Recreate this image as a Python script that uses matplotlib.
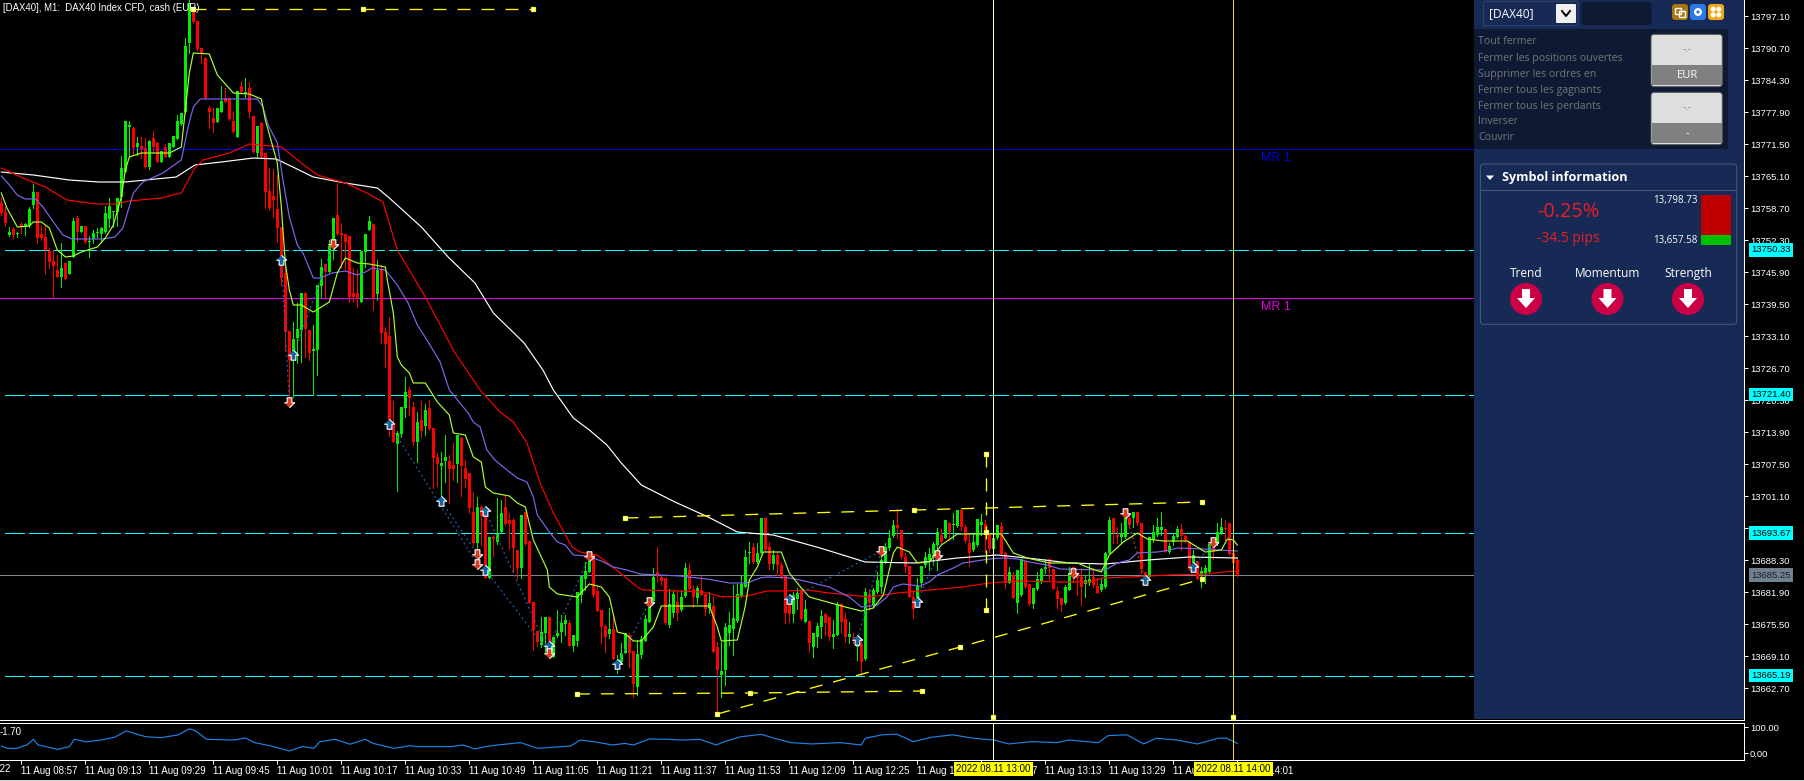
import numpy as np
import matplotlib
matplotlib.use("Agg")
import matplotlib.pyplot as plt
from matplotlib.patches import Rectangle, FancyBboxPatch, Circle, Polygon

BASE = 13600.0  # all chart prices below are stored relative to this

candle_open = [
    159.7, 157.9, 153.3, 154.5, 153.5, 155.5, 154.9, 155.1, 159.3, 161.9,
    153.5, 152.9, 150.1, 148.1, 146.3, 144.9, 147.7, 145.5, 148.9, 156.7,
    153.9, 155.1, 151.9, 152.5, 153.7, 153.5, 153.9, 156.5, 157.9, 157.9,
    160.9, 165.9, 174.9, 174.7, 170.9, 171.1, 170.7, 166.9, 172.7, 171.7,
    167.9, 170.9, 168.9, 170.9, 172.5, 175.5, 177.9, 191.7, 198.3, 196.1,
    190.7, 188.7, 178.7, 176.7, 175.9, 177.9, 180.7, 180.7, 176.1, 172.9,
    183.1, 181.7, 182.7, 177.1, 169.7, 175.7, 169.7, 162.1, 161.1, 158.5,
    154.9, 145.7, 134.1, 129.9, 132.7, 134.3, 141.7, 134.3, 130.1, 130.3,
    143.1, 147.5, 145.9, 150.9, 157.3, 153.7, 153.5, 153.1, 141.7, 141.7,
    139.9, 149.9, 154.3, 155.5, 141.5, 146.5, 133.9, 133.1, 115.3, 111.5,
    113.5, 118.7, 122.3, 118.9, 111.9, 116.3, 115.1, 118.7, 114.7, 108.9,
    107.1, 108.1, 108.1, 107.3, 107.5, 112.7, 106.7, 105.7, 97.9, 91.7,
    98.9, 97.3, 84.7, 92.9, 91.9, 93.9, 98.9, 96.3, 96.3, 90.3,
    86.7, 97.9, 92.1, 79.9, 74.1, 71.3, 73.7, 76.9, 68.9, 73.1,
    73.9, 75.5, 75.7, 71.1, 72.1, 81.3, 84.5, 85.9, 89.3, 82.1,
    78.3, 75.1, 73.5, 74.5, 67.7, 67.9, 69.7, 73.3, 70.1, 62.9,
    69.3, 72.1, 75.9, 80.1, 85.9, 84.9, 84.7, 75.3, 77.7, 79.9,
    78.3, 81.1, 86.3, 82.5, 80.7, 82.3, 81.5, 78.7, 79.1, 70.9,
    65.3, 66.3, 73.7, 74.5, 76.1, 81.1, 82.9, 89.7, 90.9, 87.9,
    89.7, 96.7, 90.9, 87.5, 89.3, 87.3, 85.1, 79.9, 77.5, 80.5,
    82.1, 75.9, 76.1, 70.9, 72.9, 74.9, 77.5, 76.9, 72.9, 73.3,
    79.5, 76.5, 72.9, 72.9, 70.9, 71.5, 68.5, 81.5, 79.1, 81.9,
    82.9, 87.9, 90.7, 93.1, 95.3, 94.3, 88.9, 87.1, 80.9, 79.9,
    83.7, 87.3, 88.3, 89.5, 91.3, 93.3, 92.7, 95.7, 95.3, 95.1,
    98.3, 94.9, 91.7, 90.3, 91.3, 95.3, 95.5, 93.3, 90.5, 92.7,
    95.1, 89.7, 83.7, 85.3, 79.7, 81.3, 88.1, 83.5, 79.5, 82.5,
    83.9, 86.5, 88.5, 86.5, 82.1, 80.7, 79.7, 82.3, 86.9, 85.7,
    84.9, 83.5, 83.7, 84.9, 83.1, 82.3, 82.9, 89.7, 96.7, 93.3,
    92.9, 92.9, 96.7, 96.7, 97.9, 95.7, 85.9, 84.9, 92.3, 93.3,
    94.3, 94.5, 89.9, 91.9, 92.9, 94.5, 93.1, 91.9, 87.7, 88.1,
    85.5, 85.7, 85.9, 91.3, 91.5, 93.7, 94.7, 95.7, 89.7, 88.3,
]
candle_close = [
    157.7, 155.7, 153.9, 153.3, 153.7, 154.9, 155.5, 158.5, 161.9, 152.7,
    152.7, 150.3, 147.9, 147.1, 144.9, 146.7, 144.5, 148.1, 156.1, 153.9,
    155.1, 151.9, 152.1, 153.7, 153.9, 154.7, 157.7, 159.1, 158.1, 160.7,
    166.7, 176.1, 175.3, 170.7, 171.7, 170.5, 166.9, 172.1, 170.9, 167.9,
    170.1, 168.9, 171.7, 173.1, 176.1, 177.7, 191.1, 199.7, 195.9, 190.5,
    189.5, 180.7, 177.9, 175.7, 178.7, 180.1, 179.9, 176.5, 173.9, 182.1,
    181.9, 181.9, 177.9, 169.9, 175.1, 168.9, 161.9, 158.7, 160.3, 154.7,
    144.7, 133.9, 128.3, 132.5, 134.5, 141.7, 134.5, 129.7, 130.5, 143.3,
    146.9, 145.9, 151.1, 156.7, 153.5, 153.3, 151.9, 140.9, 140.9, 140.7,
    150.1, 153.5, 156.1, 140.7, 146.3, 133.7, 131.5, 115.7, 111.9, 113.7,
    118.9, 121.9, 120.7, 111.9, 115.9, 114.1, 118.3, 114.5, 108.7, 107.5,
    107.7, 108.9, 106.5, 106.5, 113.3, 107.1, 104.5, 98.7, 91.7, 98.9,
    97.1, 84.7, 92.9, 92.5, 93.5, 97.7, 95.5, 95.5, 90.7, 86.7,
    97.3, 91.5, 79.7, 74.3, 71.9, 73.9, 76.9, 71.9, 72.9, 73.7,
    75.7, 76.3, 71.1, 73.3, 81.9, 85.1, 86.1, 88.3, 81.3, 78.1,
    74.9, 72.9, 74.5, 68.5, 68.3, 69.7, 73.7, 69.7, 63.5, 69.5,
    72.5, 76.5, 79.3, 84.9, 85.1, 84.1, 75.7, 79.5, 81.5, 77.7,
    80.9, 86.7, 82.5, 80.9, 82.7, 81.3, 78.5, 79.7, 69.9, 66.3,
    66.1, 74.9, 75.3, 76.7, 81.5, 83.5, 88.9, 89.9, 87.9, 89.7,
    96.7, 90.3, 87.5, 89.3, 87.3, 84.9, 77.7, 77.5, 81.3, 81.7,
    76.5, 78.5, 71.7, 73.7, 75.1, 77.1, 75.7, 72.9, 73.5, 79.5,
    75.9, 72.9, 73.5, 72.7, 71.7, 67.9, 81.9, 79.7, 82.3, 84.3,
    88.3, 90.9, 92.7, 95.3, 94.7, 88.9, 86.9, 80.9, 78.5, 83.1,
    87.1, 88.9, 89.5, 91.5, 93.9, 91.9, 96.3, 93.9, 95.5, 98.3,
    94.9, 92.1, 89.7, 91.9, 96.5, 95.9, 93.7, 90.5, 92.7, 95.3,
    89.5, 83.7, 85.9, 80.7, 86.3, 88.5, 82.9, 79.5, 82.7, 84.5,
    86.5, 86.9, 86.7, 82.5, 80.5, 79.3, 82.9, 85.7, 84.7, 84.7,
    82.9, 84.3, 84.5, 83.3, 81.7, 83.5, 89.7, 96.3, 93.7, 92.9,
    93.7, 96.9, 95.3, 97.9, 95.7, 86.5, 84.9, 92.9, 93.9, 94.9,
    94.9, 89.9, 91.1, 93.1, 94.5, 93.1, 92.3, 86.5, 89.3, 84.5,
    86.1, 86.7, 91.5, 89.9, 93.9, 94.9, 94.5, 89.5, 87.7, 85.3,
]
candle_high = [
    160.9, 158.9, 154.9, 154.9, 153.9, 155.9, 155.7, 158.9, 163.5, 161.9,
    155.1, 155.1, 150.7, 150.3, 149.3, 151.7, 147.7, 148.1, 156.7, 157.1,
    155.1, 155.1, 153.1, 154.3, 154.7, 154.9, 159.1, 160.7, 158.1, 160.7,
    169.1, 176.1, 176.1, 174.9, 172.9, 172.9, 172.7, 172.3, 174.1, 171.9,
    170.1, 171.5, 171.7, 173.1, 177.3, 177.7, 192.7, 200.3, 198.9, 196.1,
    190.7, 188.9, 179.1, 178.7, 178.7, 183.1, 182.7, 180.7, 178.1, 182.1,
    184.1, 184.7, 183.9, 177.1, 175.1, 175.9, 169.7, 166.7, 166.5, 165.3,
    154.9, 148.3, 134.1, 135.9, 139.7, 141.7, 141.9, 134.3, 135.3, 143.3,
    148.5, 147.5, 152.3, 156.7, 163.7, 155.7, 153.5, 153.1, 146.7, 146.3,
    150.1, 153.5, 157.1, 155.5, 148.3, 147.3, 134.9, 136.9, 120.1, 114.1,
    118.9, 124.9, 122.9, 119.9, 117.9, 120.1, 119.5, 120.3, 114.7, 109.7,
    109.9, 113.3, 109.3, 111.7, 113.3, 112.9, 108.3, 105.7, 101.9, 100.9,
    99.3, 97.3, 92.9, 93.3, 100.7, 100.3, 101.1, 97.7, 96.7, 90.3,
    97.3, 97.9, 92.1, 79.9, 74.1, 76.9, 76.9, 76.9, 72.9, 78.3,
    77.3, 77.3, 76.3, 73.3, 81.9, 85.1, 87.9, 89.7, 89.3, 82.9,
    78.3, 75.3, 78.7, 77.1, 69.3, 71.7, 73.7, 73.7, 70.1, 72.3,
    73.1, 77.3, 79.7, 86.7, 90.9, 85.3, 84.7, 82.5, 82.3, 82.3,
    82.3, 87.7, 87.7, 83.1, 83.1, 85.1, 81.5, 81.9, 81.1, 71.9,
    71.9, 75.7, 77.9, 83.3, 83.5, 85.3, 90.3, 91.9, 91.7, 91.7,
    96.7, 96.7, 91.9, 90.3, 89.9, 87.9, 85.1, 80.5, 81.9, 82.7,
    82.3, 80.3, 76.3, 73.7, 75.7, 78.3, 77.7, 76.9, 76.3, 79.9,
    79.7, 77.7, 75.9, 73.7, 72.9, 72.3, 82.7, 82.5, 82.7, 85.9,
    89.7, 91.7, 94.3, 96.3, 98.1, 94.3, 89.7, 87.1, 82.3, 84.7,
    87.1, 89.9, 90.7, 91.9, 94.7, 94.5, 96.3, 95.9, 97.7, 98.3,
    98.3, 95.3, 93.7, 93.7, 96.5, 97.5, 96.3, 93.7, 93.9, 95.3,
    95.9, 89.9, 86.9, 85.9, 86.3, 88.5, 88.1, 83.5, 82.7, 85.9,
    86.7, 88.5, 88.5, 86.5, 82.9, 80.7, 83.3, 86.9, 86.9, 85.9,
    86.7, 85.3, 87.7, 86.7, 84.7, 84.7, 89.9, 96.9, 96.7, 94.9,
    95.7, 96.9, 97.3, 97.9, 97.9, 95.7, 85.9, 92.9, 95.3, 96.7,
    97.9, 94.5, 91.7, 93.7, 95.1, 95.5, 93.7, 92.1, 90.3, 88.1,
    86.9, 87.3, 91.7, 92.3, 95.7, 96.7, 96.3, 95.7, 89.7, 88.7,
]
candle_low = [
    157.3, 155.1, 153.1, 152.7, 152.9, 153.7, 153.3, 154.9, 158.7, 151.7,
    152.3, 145.5, 146.7, 140.9, 144.9, 142.9, 144.5, 145.5, 148.9, 151.9,
    153.9, 151.7, 148.9, 151.7, 152.9, 151.9, 153.7, 154.9, 154.9, 155.1,
    158.9, 165.9, 168.9, 169.3, 169.3, 168.7, 166.7, 166.5, 169.7, 167.9,
    167.9, 168.9, 168.9, 170.9, 172.5, 175.3, 177.7, 189.7, 195.7, 190.3,
    187.7, 180.7, 174.7, 173.9, 175.9, 177.9, 179.9, 176.3, 173.7, 172.9,
    181.7, 180.9, 176.9, 169.7, 168.9, 168.9, 158.7, 158.3, 156.9, 151.9,
    143.3, 130.3, 120.3, 120.9, 127.7, 127.9, 128.9, 128.3, 121.3, 125.3,
    140.9, 140.9, 145.9, 148.5, 153.3, 146.7, 146.3, 139.9, 139.9, 138.9,
    139.9, 146.9, 154.3, 138.3, 140.3, 131.7, 126.9, 113.1, 111.9, 102.1,
    112.9, 116.9, 117.3, 111.3, 107.9, 112.9, 113.3, 114.3, 102.7, 103.1,
    100.9, 103.9, 99.7, 104.3, 103.9, 101.1, 102.9, 97.7, 91.3, 89.7,
    91.3, 84.7, 84.7, 89.1, 91.5, 93.7, 95.3, 90.5, 85.9, 84.7,
    84.7, 91.3, 79.7, 70.3, 71.1, 70.9, 69.7, 68.9, 68.9, 72.9,
    71.9, 73.3, 71.1, 70.1, 71.1, 79.9, 82.3, 85.9, 80.9, 78.1,
    71.7, 69.9, 72.7, 68.5, 65.7, 67.7, 69.7, 66.9, 60.9, 61.3,
    68.7, 72.1, 75.9, 79.9, 83.9, 83.3, 75.5, 74.9, 76.9, 76.3,
    78.1, 80.9, 82.3, 78.9, 79.7, 81.3, 77.3, 77.7, 69.9, 57.7,
    60.9, 63.3, 71.3, 69.3, 75.9, 80.9, 82.9, 87.7, 87.7, 87.7,
    89.7, 90.1, 86.5, 86.5, 85.3, 84.7, 75.7, 75.9, 75.9, 78.5,
    76.3, 75.9, 69.9, 68.9, 70.9, 72.7, 73.3, 72.3, 70.7, 73.3,
    73.7, 71.9, 71.7, 71.7, 68.3, 65.3, 68.3, 78.3, 78.9, 81.7,
    81.7, 87.7, 90.3, 92.9, 92.7, 88.7, 85.9, 80.9, 76.7, 78.9,
    82.9, 86.9, 86.3, 87.3, 86.3, 91.7, 92.7, 92.3, 92.5, 94.9,
    94.3, 91.9, 87.1, 90.1, 91.1, 93.3, 89.9, 89.9, 90.3, 92.5,
    89.3, 82.7, 83.7, 80.7, 77.7, 81.1, 82.7, 79.3, 78.7, 82.3,
    83.7, 85.7, 84.3, 82.5, 78.7, 78.1, 79.5, 82.3, 83.9, 81.3,
    79.3, 80.9, 83.3, 82.9, 81.7, 82.1, 82.7, 89.7, 91.7, 91.7,
    91.7, 92.7, 94.9, 94.9, 95.3, 85.7, 84.3, 84.9, 91.9, 93.1,
    93.3, 89.9, 89.7, 91.3, 92.7, 90.3, 91.9, 86.3, 87.3, 84.5,
    82.9, 83.7, 85.9, 88.5, 91.3, 93.5, 92.3, 89.3, 87.7, 85.1,
]

# moving averages as (bar, price) knots
fast_bar = [0, 1.4, 4, 7, 8, 10, 12, 14, 16, 18, 20, 24, 26, 28, 30, 31, 32, 35, 42, 45, 46, 47, 48, 52, 54, 58, 62, 65, 66, 69,
            70, 71, 72, 73, 75, 78, 80, 82, 84, 86, 89, 92, 96, 96.5, 98, 99, 100, 102, 103, 106, 109, 112, 113, 116, 118, 120,
            121, 123, 127, 129, 131, 133, 135, 136.5, 137, 139, 144, 147, 150, 152, 154, 156, 158, 160, 163, 165, 170, 175, 177,
            179, 180, 184, 186, 187, 189, 190.5, 195, 197, 200, 202, 211, 215, 218, 220.5, 223, 224, 227, 229, 232, 235, 239, 250,
            253, 256.5, 262, 269, 272, 275, 277, 280.5, 284, 286.5, 290.5, 296.5, 301, 305, 306.5, 308, 309]
fast_price = [161.7, 158.7, 154.9, 155.1, 155.9, 155.9, 154.7, 150.3, 148.9, 149.1, 149.9, 150.9, 152.7, 155.3, 160.9, 166.3, 168.9, 169.7, 169.7, 170.9, 178.3, 185.7, 189.7, 189.5, 185.3, 181.7, 181.5, 180.5, 176.3, 167.7,
              158.9, 147.7, 142.3, 139.3, 139.3, 137.9, 138.9, 139.9, 145.7, 148.7, 147.7, 147.5, 146.9, 144.3, 137.7, 128.9, 127.3, 125.7, 123.7, 123.7, 119.9, 117.3, 113.7, 113.3, 108.9, 107.9,
              102.9, 101.7, 101.1, 99.7, 98.9, 92.3, 88.9, 86.3, 82.9, 81.5, 80.9, 83.5, 82.9, 80.9, 73.9, 73.5, 72.1, 72.1, 74.9, 79.1, 79.1, 79.1, 79.1,
              74.9, 72.1, 72.3, 79.1, 84.3, 86.9, 89.9, 89.9, 85.7, 82.7, 80.9, 78.9, 78.1, 78.7, 81.3, 89.7, 90.9, 89.9, 87.7, 87.9, 91.3, 93.5, 93.5,
              89.7, 88.7, 87.7, 87.7, 86.7, 85.9, 89.3, 91.9, 93.7, 92.5, 92.1, 92.1, 89.9, 90.3, 92.5, 92.3, 91.3]
mid_bar = [0, 1.4, 4, 6, 8.5, 10.4, 13, 15.4, 17.7, 25.4, 28.4, 30.4, 33, 35.4, 40.4, 45, 46.7, 48, 49.7, 64, 65.4, 66.7, 69, 70.4, 72, 74, 75.4, 78, 79.7, 82.7, 86, 89, 91, 92.7, 96,
           99, 101.7, 104, 106.4, 109.7, 112, 116.7, 118, 119.7, 121.4, 123.4, 126.4, 129, 131.4, 133, 134, 137, 139, 141, 143, 146.4, 150, 153, 156.4, 159.7, 169.7, 176.4, 182, 186.4, 189.7,
           191.4, 197, 199.7, 207, 212, 215, 219, 221.4, 223, 225.4, 229.7, 232, 234, 238, 240.4, 247, 250.4, 254, 257, 261.4, 264.7, 274, 276, 279, 282, 284, 289, 292, 294, 300.4, 304, 309]
mid_price = [165.1, 163.9, 161.3, 160.5, 160.5, 158.9, 155.9, 153.3, 152.5, 152.5, 152.9, 154.7, 161.7, 163.9, 165.7, 168.3, 174.9, 178.9, 180.5, 180.5, 178.9, 175.3, 171.7, 164.3, 156.9, 151.3, 149.7, 144.7, 144.7, 145.7, 146.1, 145.3, 145.9, 146.7, 146.3,
             143.3, 139.7, 135.3, 132.3, 127.9, 122.3, 117.7, 115.9, 114.9, 110.3, 108.3, 106.3, 104.7, 103.9, 100.9, 97.3, 93.9, 91.9, 91.3, 89.3, 89.1, 88.1, 86.9, 86.3, 85.5, 85.1, 84.5, 83.7, 83.7, 84.7,
             84.9, 84.7, 84.3, 82.9, 80.9, 78.9, 79.3, 80.9, 82.9, 83.5, 83.1, 83.9, 85.3, 86.7, 87.7, 88.5, 88.7, 88.5, 87.9, 87.3, 86.5, 86.3, 86.3, 87.7, 88.3, 89.7, 89.9, 90.3, 90.7, 90.5, 90.3, 90.1]
slow_bar = [0, 5.4, 11, 16.4, 23.7, 28.4, 32, 40, 45, 48.4, 50.4, 57, 62, 70, 75, 79, 86, 91.4, 95.4, 99, 106, 113.4, 119.7, 124.7, 128, 131.4, 134.7, 138, 142.7, 144.7, 149,
            154.7, 159, 160.4, 169, 175.4, 180.4, 186.4, 191.4, 196.4, 201.4, 207, 217, 224, 232, 240.4, 247, 254, 265.4, 272, 275.4, 282, 292, 301.4, 305.4, 309]
slow_price = [166.7, 164.7, 162.9, 160.3, 159.5, 159.5, 160.1, 160.7, 161.7, 166.7, 168.3, 169.7, 171.5, 170.9, 167.7, 165.3, 163.7, 161.7, 159.9, 150.3, 140.9, 129.7, 122.3, 117.9, 115.9, 111.7, 103.7, 97.7, 90.9, 89.9, 89.3,
              85.7, 82.9, 82.3, 82.1, 81.9, 80.9, 81.1, 82.1, 82.1, 82.3, 81.7, 80.9, 81.7, 82.3, 82.9, 83.7, 84.1, 83.9, 83.9, 84.7, 84.9, 85.3, 85.5, 85.9, 86.1]
long_bar = [0, 8, 17, 24.4, 31, 43.7, 48.4, 55, 63, 68.7, 73.4, 78, 86, 94, 97, 105, 111.7, 118.4, 123, 130.7, 135.4, 138, 143, 147, 151.4, 155, 160, 168.4, 176.7, 184, 193,
            204.7, 216, 228.4, 239, 249, 258.7, 267, 276, 286.7, 297, 309]
long_price = [165.9, 165.3, 164.3, 163.9, 163.9, 164.9, 167.3, 167.9, 168.7, 168.5, 166.7, 164.9, 163.7, 162.7, 160.7, 154.9, 148.9, 143.7, 137.7, 131.7, 126.3, 122.3, 116.7, 114.3, 111.3, 107.7, 103.3, 99.9, 96.9, 93.9, 93.3,
              90.7, 87.9, 87.7, 88.7, 89.3, 88.5, 87.7, 87.5, 88.3, 88.9, 88.7]

# oscillator in the lower window
osc_bar = [0, 1.6, 4, 5.4, 6.4, 8, 9.2, 12, 14, 17, 18.3, 21.2, 25, 28.4, 31.2, 36, 39.9, 44.2, 47, 48.5, 51.3, 58, 61, 63.3, 67.2, 72, 75.3, 78.1, 79.6, 83.4, 87.2, 91, 93, 98.2, 102, 104, 112.6, 115.5,
           118.3, 121.2, 124, 129.8, 134.1, 142.3, 144.7, 148, 152.8, 155.9, 158, 162, 166.3, 170.4, 174.6, 178.7, 180.8, 185, 190, 193.2, 197.4, 202.6, 209.8, 215, 216, 220.2, 223.8, 228, 232.7, 237.8,
           243, 248.2, 251.8, 257.6, 263.8, 266.9, 274.2, 276.7, 281.4, 285.6, 288.7, 293.9, 299, 304.2, 306.3, 309]
osc_value = [28, 19, 19, 28, 32, 54, 32, 23, 15, 26, 54, 44, 51, 62, 86, 64, 60, 71, 94, 87, 54, 51, 59, 41, 29, 9, 26, 19, 44, 54, 35, 54, 38, 19, 29, 26, 26, 32,
             17, 26, 32, 41, 19, 28, 51, 45, 32, 38, 32, 55, 54, 51, 54, 32, 45, 64, 73, 58, 41, 36, 41, 32, 58, 71, 74, 45, 62, 71,
             58, 51, 36, 45, 41, 51, 41, 68, 71, 36, 58, 51, 36, 58, 58, 38]
osc_ticks = [100, 0]
osc_tick_labels = ["100.00", "0.00"]

# signal arrows
up_bar = [70, 73, 97, 110, 121, 121, 137, 154, 197, 214, 229, 286, 298]
up_price = [148.3, 129.3, 115.5, 100.1, 98.1, 86.3, 71.1, 67.5, 80.5, 72.3, 79.9, 84.3, 86.9]
down_bar = [83, 72, 119, 119, 137, 147, 162, 220, 234, 268, 281, 303]
down_price = [151.5, 119.9, 89.5, 87.5, 69.7, 89.1, 79.9, 90.1, 89.3, 85.7, 97.7, 91.9]
zigzag = [(70, 148.3, 72, 119.9), (73, 129.3, 83, 151.5), (97, 115.5, 119, 87.5), (110, 100.1, 119, 89.5),
          (121, 98.1, 137, 69.7), (121, 86.3, 137, 69.7), (137, 71.1, 147, 89.1), (154, 67.5, 162, 79.9),
          (197, 80.5, 220, 90.1), (214, 72.3, 220, 90.1), (229, 79.9, 234, 89.3), (298, 86.9, 303, 91.9)]
zigzag_red = [(281, 97.7, 286, 84.3)]

# drawn objects, three anchor points each
trend_lines = {
    "top": ([48, 90.5, 133], [198.6, 198.6, 198.6]),
    "channel": ([156, 228.2, 300.2], [96.7, 98.3, 99.9]),
    "floor": ([143.9, 187.2, 230.1], [61.5, 61.7, 62.1]),
    "rising": ([179, 239.7, 300.2], [57.5, 70.9, 84.5]),
    "vertical": ([246.2, 246.2, 246.2], [109.5, 93.9, 78.3]),
}
cursor_bars = [248, 308]
cursor_labels = ["2022.08.11 13:00", "2022.08.11 14:00"]
cursor_anchor = 56.9

support_levels = [13750.33, 13721.40, 13693.67, 13665.19]
support_labels = ["13750.33", "13721.40", "13693.67", "13665.19"]
last_price = 13685.25
mr_blue = 13770.6
mr_magenta = 13740.8

price_ticks = [13797.10, 13790.70, 13784.30, 13777.90, 13771.50, 13765.10, 13758.70, 13752.30, 13745.90, 13739.50, 13733.10,
               13726.70, 13720.30, 13713.90, 13707.50, 13701.10, 13694.70, 13688.30, 13681.90, 13675.50, 13669.10, 13662.70]
time_ticks = [5 + 16 * i for i in range(20)]
time_labels = ["08:57", "09:13", "09:29", "09:45", "10:01", "10:17", "10:33", "10:49", "11:05", "11:21",
               "11:37", "11:53", "12:09", "12:25", "12:41", "12:57", "13:13", "13:29", "13:45", "14:01"]

menu_items = ["Tout fermer", "Fermer les positions ouvertes", "Supprimer les ordres en", "Fermer tous les gagnants",
              "Fermer tous les perdants", "Inverser", "Couvrir"]
gauge_names = ["Trend", "Momentum", "Strength"]

W, H = 1804, 781
AX_R = 1744
PX = 72 / 100  # one pixel in points
THIN = 0.85  # curves are antialiased, aliased strokes in agg come out too wide
plt.rcParams["font.family"] = ["Liberation Sans", "DejaVu Sans"]
plt.rcParams["lines.scale_dashes"] = False
plt.rcParams["lines.antialiased"] = False

fig = plt.figure(figsize=(W / 100, H / 100), dpi=100, facecolor="black")


def px_axes(x0, y0, x1, y1):
    a = fig.add_axes([x0 / W, 1 - y1 / H, (x1 - x0) / W, (y1 - y0) / H])
    a.set_facecolor("black")
    return a


ax = px_axes(0, 0, AX_R, 720)
low = px_axes(0, 723, AX_R, 759.5)
ui = px_axes(0, 0, W, H)
ui.set_xlim(0, W)
ui.set_ylim(H, 0)
ui.axis("off")
ui.patch.set_alpha(0)

xlim = (-1.33 / 4, (AX_R - 1.33) / 4)
ax.set_xlim(*xlim)
ax.set_ylim(13656.3, 13800.3)
low.set_xlim(*xlim)
low.set_ylim(-23.8, 116.5)

# levels
for lv in support_levels:
    ax.plot([1, 430], [lv, lv], color="#00ffff", lw=PX, ls=(0, (19 * PX, 5 * PX)), zorder=1)
ax.axhline(mr_blue, color="#0000f0", lw=PX, zorder=1)
ax.axhline(mr_magenta, color="#f000f0", lw=PX, zorder=1)
ax.axhline(last_price, color="#808890", lw=PX, zorder=1)
ax.text(315, mr_blue - 1.9, "MR 1", color="#0000d8", fontsize=9, va="center", zorder=2)
ax.text(315, mr_magenta - 1.9, "MR 1", color="#e000e0", fontsize=9, va="center", zorder=2)

# candles
bars = np.arange(len(candle_open))
o = BASE + np.array(candle_open)
c = BASE + np.array(candle_close)
hi = BASE + np.array(candle_high)
lo = BASE + np.array(candle_low)
colors = np.where(c >= o, "#00ee00", "#ff0000")
ax.vlines(bars, lo, hi, colors=colors, lw=PX, antialiased=False, zorder=3)
ax.bar(bars, np.abs(c - o), bottom=np.minimum(o, c), width=0.66, color=colors, antialiased=False, zorder=3)

# moving averages
ax.plot(long_bar, BASE + np.array(long_price), color="#ffffff", lw=THIN, antialiased=True, zorder=4)
ax.plot(slow_bar, BASE + np.array(slow_price), color="#ff0000", lw=THIN, antialiased=True, zorder=4)
ax.plot(mid_bar, BASE + np.array(mid_price), color="#7b68ee", lw=THIN, antialiased=True, zorder=4)
ax.plot(fast_bar, BASE + np.array(fast_price), color="#adff2f", lw=THIN, antialiased=True, zorder=4)

# zigzag between signals
for seg in zigzag:
    ax.plot([seg[0], seg[2]], [BASE + seg[1], BASE + seg[3]], color="#1a64b4", lw=THIN, antialiased=True, ls=(0, (2 * PX, 3 * PX)), zorder=5)
for seg in zigzag_red:
    ax.plot([seg[0], seg[2]], [BASE + seg[1], BASE + seg[3]], color="#c83c1e", lw=THIN, antialiased=True, ls=(0, (2 * PX, 3 * PX)), zorder=5)

# drawn trend lines
for bx, pr in trend_lines.values():
    prices = BASE + np.array(pr)
    ax.plot(bx, prices, color="#ffff00", lw=0.95, antialiased=True, ls=(0, (13 * PX, 11 * PX)), zorder=5)
    ax.plot(bx, prices, ls="none", marker="s", ms=4.5 * PX, mfc="white", mec="#ffff00", mew=1.2 * PX, zorder=6)

# cursors
cursor_colors = ["#ffffb4", "#f0dc1e"]
for bx, col in zip(cursor_bars, cursor_colors):
    ax.axvline(bx, color=col, lw=PX, zorder=5)
    low.axvline(bx, color=col, lw=PX, zorder=5)
    ax.plot([bx], [BASE + cursor_anchor], ls="none", marker="s", ms=4.5 * PX, mfc="white", mec="#ffff00", mew=1.2 * PX, zorder=6)

# arrows
arrow_up = [(0, 1), (1, 0.05), (0.45, 0.05), (0.45, -0.9), (-0.45, -0.9), (-0.45, 0.05), (-1, 0.05)]
arrow_down = [(x, -y) for x, y in arrow_up]
ax.plot(up_bar, BASE + np.array(up_price), ls="none", marker=arrow_up, ms=10.5 * PX, mfc="#14649e", mec="white", mew=1.1 * PX, antialiased=True, zorder=7)
ax.plot(down_bar, BASE + np.array(down_price), ls="none", marker=arrow_down, ms=10.5 * PX, mfc="#dc3c1e", mec="white", mew=1.1 * PX, antialiased=True, zorder=7)

# price axis
ax.yaxis.tick_right()
ax.set_yticks(price_ticks)
ax.set_yticklabels([f"{v:.2f}" for v in price_ticks], fontsize=6.8, color="white")
ax.tick_params(axis="y", length=4 * PX, width=PX, color="white", pad=2 * PX)
ax.set_xticks([])
for s in ["top", "left"]:
    ax.spines[s].set_visible(False)
for s in ["right", "bottom"]:
    ax.spines[s].set_color("white")
    ax.spines[s].set_linewidth(PX)

for lv, lab in zip(support_levels, support_labels):
    ax.text(1.0041, lv, lab, transform=ax.get_yaxis_transform(), fontsize=6.8, color="black", va="center", ha="left",
            bbox=dict(fc="#00ffff", ec="none", pad=2.4 * PX), zorder=20, clip_on=False)
ax.text(1.0041, last_price, f"{last_price:.2f}", transform=ax.get_yaxis_transform(), fontsize=6.8, color="#1c2028", va="center", ha="left",
        bbox=dict(fc="#708090", ec="none", pad=2.4 * PX), zorder=20, clip_on=False)

ax.text(3 / AX_R, 1 - 8 / 720, "[DAX40], M1:  DAX40 Index CFD, cash (EUR)", transform=ax.transAxes, color="white", fontsize=6.9, va="center", zorder=8)

# oscillator window
low.plot(osc_bar, osc_value, color="#1e82e6", lw=THIN, antialiased=True, zorder=3)
low.yaxis.tick_right()
low.set_yticks(osc_ticks)
low.set_yticklabels(osc_tick_labels, fontsize=6.8, color="white")
low.tick_params(axis="y", length=4 * PX, width=PX, color="white", pad=2 * PX)
low.set_xticks(time_ticks)
low.set_xticklabels(["11 Aug " + t for t in time_labels], fontsize=7, color="white", ha="left")
low.tick_params(axis="x", length=4 * PX, width=PX, color="white", pad=2)
low.spines["left"].set_visible(False)
for s in ["top", "right", "bottom"]:
    low.spines[s].set_color("white")
    low.spines[s].set_linewidth(PX)
low.text(0, 0.76, "-1.70", transform=low.transAxes, color="white", fontsize=7, va="center")
low.text(-11.9, -0.26, "11 Aug 08:22", transform=low.get_xaxis_transform(), color="white", fontsize=7, va="center", clip_on=False)
for bx, lab in zip(cursor_bars, cursor_labels):
    low.text(bx, -0.26, lab, transform=low.get_xaxis_transform(), color="black", fontsize=7, ha="center", va="center",
             bbox=dict(fc="#ffff00", ec="none", pad=2 * PX), zorder=20, clip_on=False)
ui.add_patch(Rectangle((0, 780), W, 1, fc="#d0d0d0", ec="none"))

# side panel
PANEL = "#172a55"
DARK = "#0e1a33"
F = ["Open Sans", "DejaVu Sans"]


def rbox(x0, y0, x1, y1, fc, ec="none", r=2.0, lw=0.7, z=3):
    ui.add_patch(FancyBboxPatch((x0 + r, y0 + r), x1 - x0 - 2 * r, y1 - y0 - 2 * r, boxstyle=f"round,pad={r},rounding_size={r}",
                                fc=fc, ec=ec, lw=lw, zorder=z))


ui.add_patch(Rectangle((1474, 0), AX_R - 1474 - 0.5, 719, fc=PANEL, ec="none", zorder=1))
rbox(1483.4, 1.3, 1578, 25.7, PANEL, ec="#34466e")
ui.text(1489, 13.5, "[DAX40]", color="white", fontsize=8.6, family=F, va="center", zorder=5)
rbox(1556, 4, 1576, 23, "#f0f0f0", r=1)
ui.plot([1562, 1566, 1570], [11, 16, 11], color="black", lw=1.4, zorder=5, antialiased=True)
rbox(1581.4, 2, 1651.4, 25, DARK, r=3)
icons = [(1680, "#a8760f"), (1698, "#2a7adf"), (1716, "#f0a818")]
for ix, col in icons:
    rbox(ix - 8, 4, ix + 8, 20, col, r=3)
ui.add_patch(Rectangle((1674.5, 7.5), 6.5, 6.5, fc="none", ec="white", lw=1, zorder=5))
ui.add_patch(Rectangle((1678.5, 10.5), 6.5, 6.5, fc="none", ec="white", lw=1, zorder=5))
ui.add_patch(Circle((1698, 12), 4, fc="white", ec="none", zorder=5))
ui.add_patch(Circle((1698, 12), 1.6, fc="#2a7adf", ec="none", zorder=6))
for dx, dy in [(-2.8, -2.8), (2.8, -2.8), (-2.8, 2.8), (2.8, 2.8)]:
    ui.add_patch(Circle((1716 + dx, 12 + dy), 2.5, fc="white", ec="none", zorder=5))

ui.add_patch(Rectangle((1474, 29), 254, 120, fc=DARK, ec="none", zorder=2))
for i, item in enumerate(menu_items):
    ui.text(1478, 42 + 16 * i, item, color="#757575", fontsize=7.6, family=F, va="center", zorder=5)

for top, split, bottom, lab in [(34.3, 65, 86.7, "EUR"), (92.3, 123, 144.7, "-")]:
    rbox(1651, top, 1722.3, bottom, "#dedede", ec="#505050", r=3, z=3)
    ui.add_patch(Rectangle((1651.5, split), 70.3, bottom - split - 2, fc="#808080", ec="none", zorder=4))
    ui.text(1687, (top + split) / 2, "-.-", color="#8a8a8a", fontsize=7, family=F, ha="center", va="center", zorder=5)
    ui.text(1687, (split + bottom) / 2, lab, color="white", fontsize=8, family=F, ha="center", va="center", zorder=5)

rbox(1480.4, 164, 1736.7, 324.3, PANEL, ec="#4a5a80", r=3, lw=0.7)
ui.plot([1481, 1736], [189.7, 189.7], color="#4a5a80", lw=0.7, zorder=5)
ui.add_patch(Polygon([(1486, 175.5), (1494, 175.5), (1490, 180)], fc="white", ec="none", zorder=5))
ui.text(1501.5, 177.5, "Symbol information", color="white", fontsize=9.1, family=F, weight="bold", va="center", zorder=5)
ui.text(1568.7, 212, "-0.25%", color="#ed1c24", fontsize=14.3, family=F, ha="center", va="center", zorder=5)
ui.text(1568.7, 239, "-34.5 pips", color="#ed1c24", fontsize=10, family=F, ha="center", va="center", zorder=5)
ui.text(1698, 201, "13,798.73", color="white", fontsize=7, family=F, ha="right", va="center", zorder=5)
ui.text(1698, 240, "13,657.58", color="white", fontsize=7, family=F, ha="right", va="center", zorder=5)
ui.add_patch(Rectangle((1701, 195), 30, 40, fc="#c00000", ec="none", zorder=5))
ui.add_patch(Rectangle((1701, 235), 30, 10, fc="#00c000", ec="none", zorder=5))
for name, cx in zip(gauge_names, [1526, 1607.5, 1688]):
    ui.text(cx, 273.5, name, color="white", fontsize=8.6, family=F, ha="center", va="center", zorder=5)
    ui.add_patch(Circle((cx, 299), 16, fc="#cc0044", ec="none", zorder=5, antialiased=True))
    ui.add_patch(Polygon([(cx - 4, 289), (cx + 4, 289), (cx + 4, 298), (cx + 9, 298), (cx, 308), (cx - 9, 298), (cx - 4, 298)],
                         fc="white", ec="none", zorder=6))

fig.savefig("out.png", dpi=100, facecolor="black")
